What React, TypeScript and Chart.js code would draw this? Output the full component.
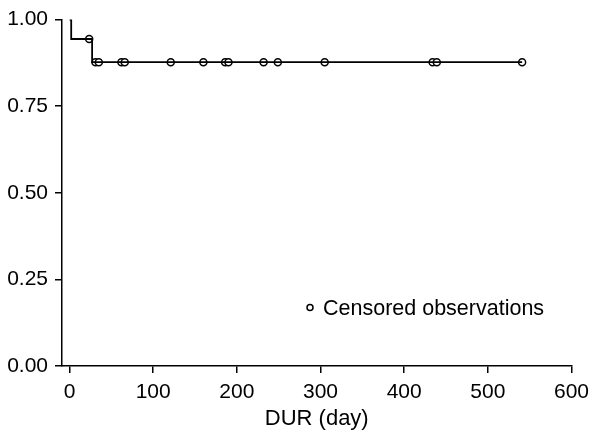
import React, { useEffect, useRef } from "react";
import { Chart, registerables } from "chart.js";

Chart.register(...registerables);

// Kaplan-Meier step function (day, survival)
const stepDays = [0, 2, 27, 541];
const stepSurvival = [1.0, 0.944, 0.877, 0.877];

// Censored observation times (day)
const censoredDays = [23.5, 31, 35, 62, 66, 121, 160, 186, 190, 232, 249, 305, 434, 439, 541];

const xTicks = [0, 100, 200, 300, 400, 500, 600];
const yTicks = [0, 0.25, 0.5, 0.75, 1.0];

const xTitle = "DUR (day)";
const legendLabel = "Censored observations";

const FONT = "'Liberation Sans', Arial, Helvetica, sans-serif";

function survivalAt(t: number): number {
  let s = stepSurvival[0];
  for (let i = 0; i < stepDays.length; i++) {
    if (stepDays[i] <= t) s = stepSurvival[i];
  }
  return s;
}

const legendPlugin = {
  id: "censoredLegend",
  afterDraw(chart: any) {
    const { ctx, chartArea } = chart;
    const cx = chartArea.left + 248;
    const cy = chartArea.top + 288;
    ctx.save();
    ctx.beginPath();
    ctx.arc(cx, cy, 3, 0, Math.PI * 2);
    ctx.fillStyle = "#fff";
    ctx.fill();
    ctx.lineWidth = 1.5;
    ctx.strokeStyle = "#000";
    ctx.stroke();
    ctx.fillStyle = "#000";
    ctx.font = `21.5px ${FONT}`;
    ctx.textBaseline = "middle";
    ctx.textAlign = "left";
    ctx.fillText(legendLabel, cx + 13, cy + 1);
    ctx.restore();
  },
};

export default function App() {
  const ref = useRef<HTMLCanvasElement | null>(null);

  useEffect(() => {
    if (!ref.current) return;
    const chart = new Chart(ref.current, {
      type: "scatter",
      data: {
        datasets: [
          {
            type: "line",
            data: stepDays.map((d, i) => ({ x: d, y: stepSurvival[i] })),
            stepped: true,
            borderColor: "#000",
            borderWidth: 1.8,
            pointRadius: 0,
            fill: false,
          } as any,
          {
            type: "scatter",
            data: censoredDays.map((d) => ({ x: d, y: survivalAt(d) })),
            pointStyle: "circle",
            pointRadius: 3.5,
            borderWidth: 1.5,
            borderColor: "#000",
            backgroundColor: "#fff",
            clip: false,
          } as any,
        ],
      },
      options: {
        animation: false,
        responsive: false,
        maintainAspectRatio: false,
        layout: { padding: { left: 0, right: 20, top: 16, bottom: 0 } },
        plugins: { legend: { display: false }, tooltip: { enabled: false } },
        scales: {
          x: {
            type: "linear",
            min: -9,
            max: 600,
            afterBuildTicks: (s: any) => {
              s.ticks = xTicks.map((v) => ({ value: v }));
            },
            afterFit: (s: any) => {
              s.height = 72;
            },
            grid: {
              drawOnChartArea: false,
              drawTicks: true,
              tickLength: 7,
              color: "#000",
              lineWidth: 1.5,
            },
            border: { display: true, color: "#000", width: 1.5 },
            ticks: {
              color: "#000",
              font: { family: FONT, size: 21 },
              padding: 7,
              maxRotation: 0,
              autoSkip: false,
            },
            title: {
              display: true,
              text: xTitle,
              color: "#000",
              font: { family: FONT, size: 22 },
              padding: { top: 0, bottom: 6 },
            },
          },
          y: {
            type: "linear",
            min: 0,
            max: 1,
            afterBuildTicks: (s: any) => {
              s.ticks = yTicks.map((v) => ({ value: v }));
            },
            afterFit: (s: any) => {
              s.width = 62;
            },
            grid: {
              drawOnChartArea: false,
              drawTicks: true,
              tickLength: 7,
              color: "#000",
              lineWidth: 1.5,
            },
            border: { display: true, color: "#000", width: 1.5 },
            ticks: {
              color: "#000",
              font: { family: FONT, size: 21 },
              padding: 7,
              autoSkip: false,
              callback: (v: any) => Number(v).toFixed(2),
            },
          },
        },
      },
      plugins: [legendPlugin],
    });
    return () => chart.destroy();
  }, []);

  return (
    <div style={{ position: "fixed", left: 0, top: 0, width: 596, height: 438, background: "#fff" }}>
      <canvas ref={ref} width={596} height={438} style={{ width: 596, height: 438 }} />
    </div>
  );
}
